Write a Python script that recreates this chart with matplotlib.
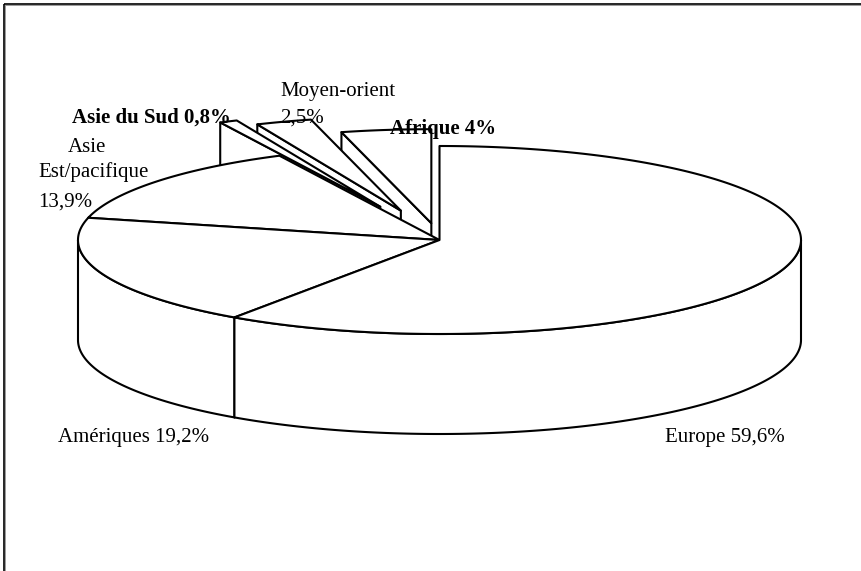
import numpy as np
import matplotlib.pyplot as plt
from matplotlib.patches import Polygon

plt.rcParams['font.family'] = ['Liberation Serif', 'DejaVu Serif']

# --- Données ---
regions = ['Europe', 'Amériques', 'Asie Est/pacifique', 'Asie du Sud', 'Moyen-orient', 'Afrique']
shares = [59.6, 19.2, 13.9, 0.8, 2.5, 4.0]
explode = [0, 0, 0, 0.39, 0.33, 0.18]
bold_label = [False, False, False, True, False, True]
# découpage des étiquettes en lignes
label_breaks = [None, None, ['Asie', 'Est/pacifique'], None, ['Moyen-orient'], None]

# --- Mise en page (pixels) ---
W, H = 861, 571
cx, cy = 439.5, 240
rx, ry = 361.5, 94
depth = 100
# position (gauche, ligne de base) de chaque ligne d'étiquette
label_pos = [
    [(665, 442)],
    [(58, 442)],
    [(68, 152), (38, 177), (38, 207)],
    [(72, 123)],
    [(280, 96), (280, 123)],
    [(390, 134)],
]


def proj(theta, r, z, off):
    t = np.radians(theta)
    return (cx + off[0] + rx * r * np.sin(t),
            cy + off[1] - ry * r * np.cos(t) + z)


def arc(a, b, z, off):
    th = np.linspace(a, b, max(int(abs(b - a) * 2), 2))
    xs, ys = proj(th, 1.0, z, off)
    return list(zip(xs, ys))


fig = plt.figure(figsize=(W / 100, H / 100), dpi=100)
ax = fig.add_axes([0, 0, 1, 1])
ax.set_xlim(0, W)
ax.set_ylim(H, 0)
ax.axis('off')

# cadre
ax.plot([3.5, W], [3.5, 3.5], color='black', lw=1.2, solid_capstyle='butt')
ax.plot([3.5, 3.5], [3.5, H], color='black', lw=1.2, solid_capstyle='butt')
ax.plot([5, W], [5.2, 5.2], color='#999999', lw=0.7)
ax.plot([5.2, 5.2], [5, H], color='#999999', lw=0.7)

bounds = np.concatenate([[0], np.cumsum(shares)]) * 3.6
style = dict(facecolor='white', edgecolor='black', linewidth=1.5, joinstyle='round')

z = 2
for i in reversed(range(len(shares))):
    t0, t1 = bounds[i], bounds[i + 1]
    mid = np.radians((t0 + t1) / 2)
    off = (rx * explode[i] * np.sin(mid), -ry * explode[i] * np.cos(mid))
    apex_top = proj(0, 0, 0, off)
    apex_bot = proj(0, 0, depth, off)
    faces = []
    # faces radiales visibles
    if np.cos(np.radians(t0 - 90)) < -1e-6:
        faces.append([apex_top, proj(t0, 1, 0, off), proj(t0, 1, depth, off), apex_bot])
    if np.cos(np.radians(t1 + 90)) < -1e-6:
        faces.append([apex_top, proj(t1, 1, 0, off), proj(t1, 1, depth, off), apex_bot])
    # paroi extérieure avant
    a, b = max(t0, 90), min(t1, 270)
    if a < b:
        faces.append(arc(a, b, 0, off) + arc(b, a, depth, off))
    # dessus
    faces.append([apex_top] + arc(t0, t1, 0, off))
    for f in faces:
        ax.add_patch(Polygon(f, closed=True, zorder=z, **style))
        z += 1

# --- Étiquettes ---
for i, name in enumerate(regions):
    pct = f"{shares[i]:g}".replace('.', ',') + '%'
    if label_breaks[i]:
        lines = label_breaks[i] + [pct]
    else:
        lines = [f"{name} {pct}"]
    for line, (x, y) in zip(lines, label_pos[i]):
        ax.text(x, y, line, fontsize=15, ha='left', va='baseline',
                fontweight='bold' if bold_label[i] else 'normal', zorder=100)

fig.savefig('out.png', dpi=100)
